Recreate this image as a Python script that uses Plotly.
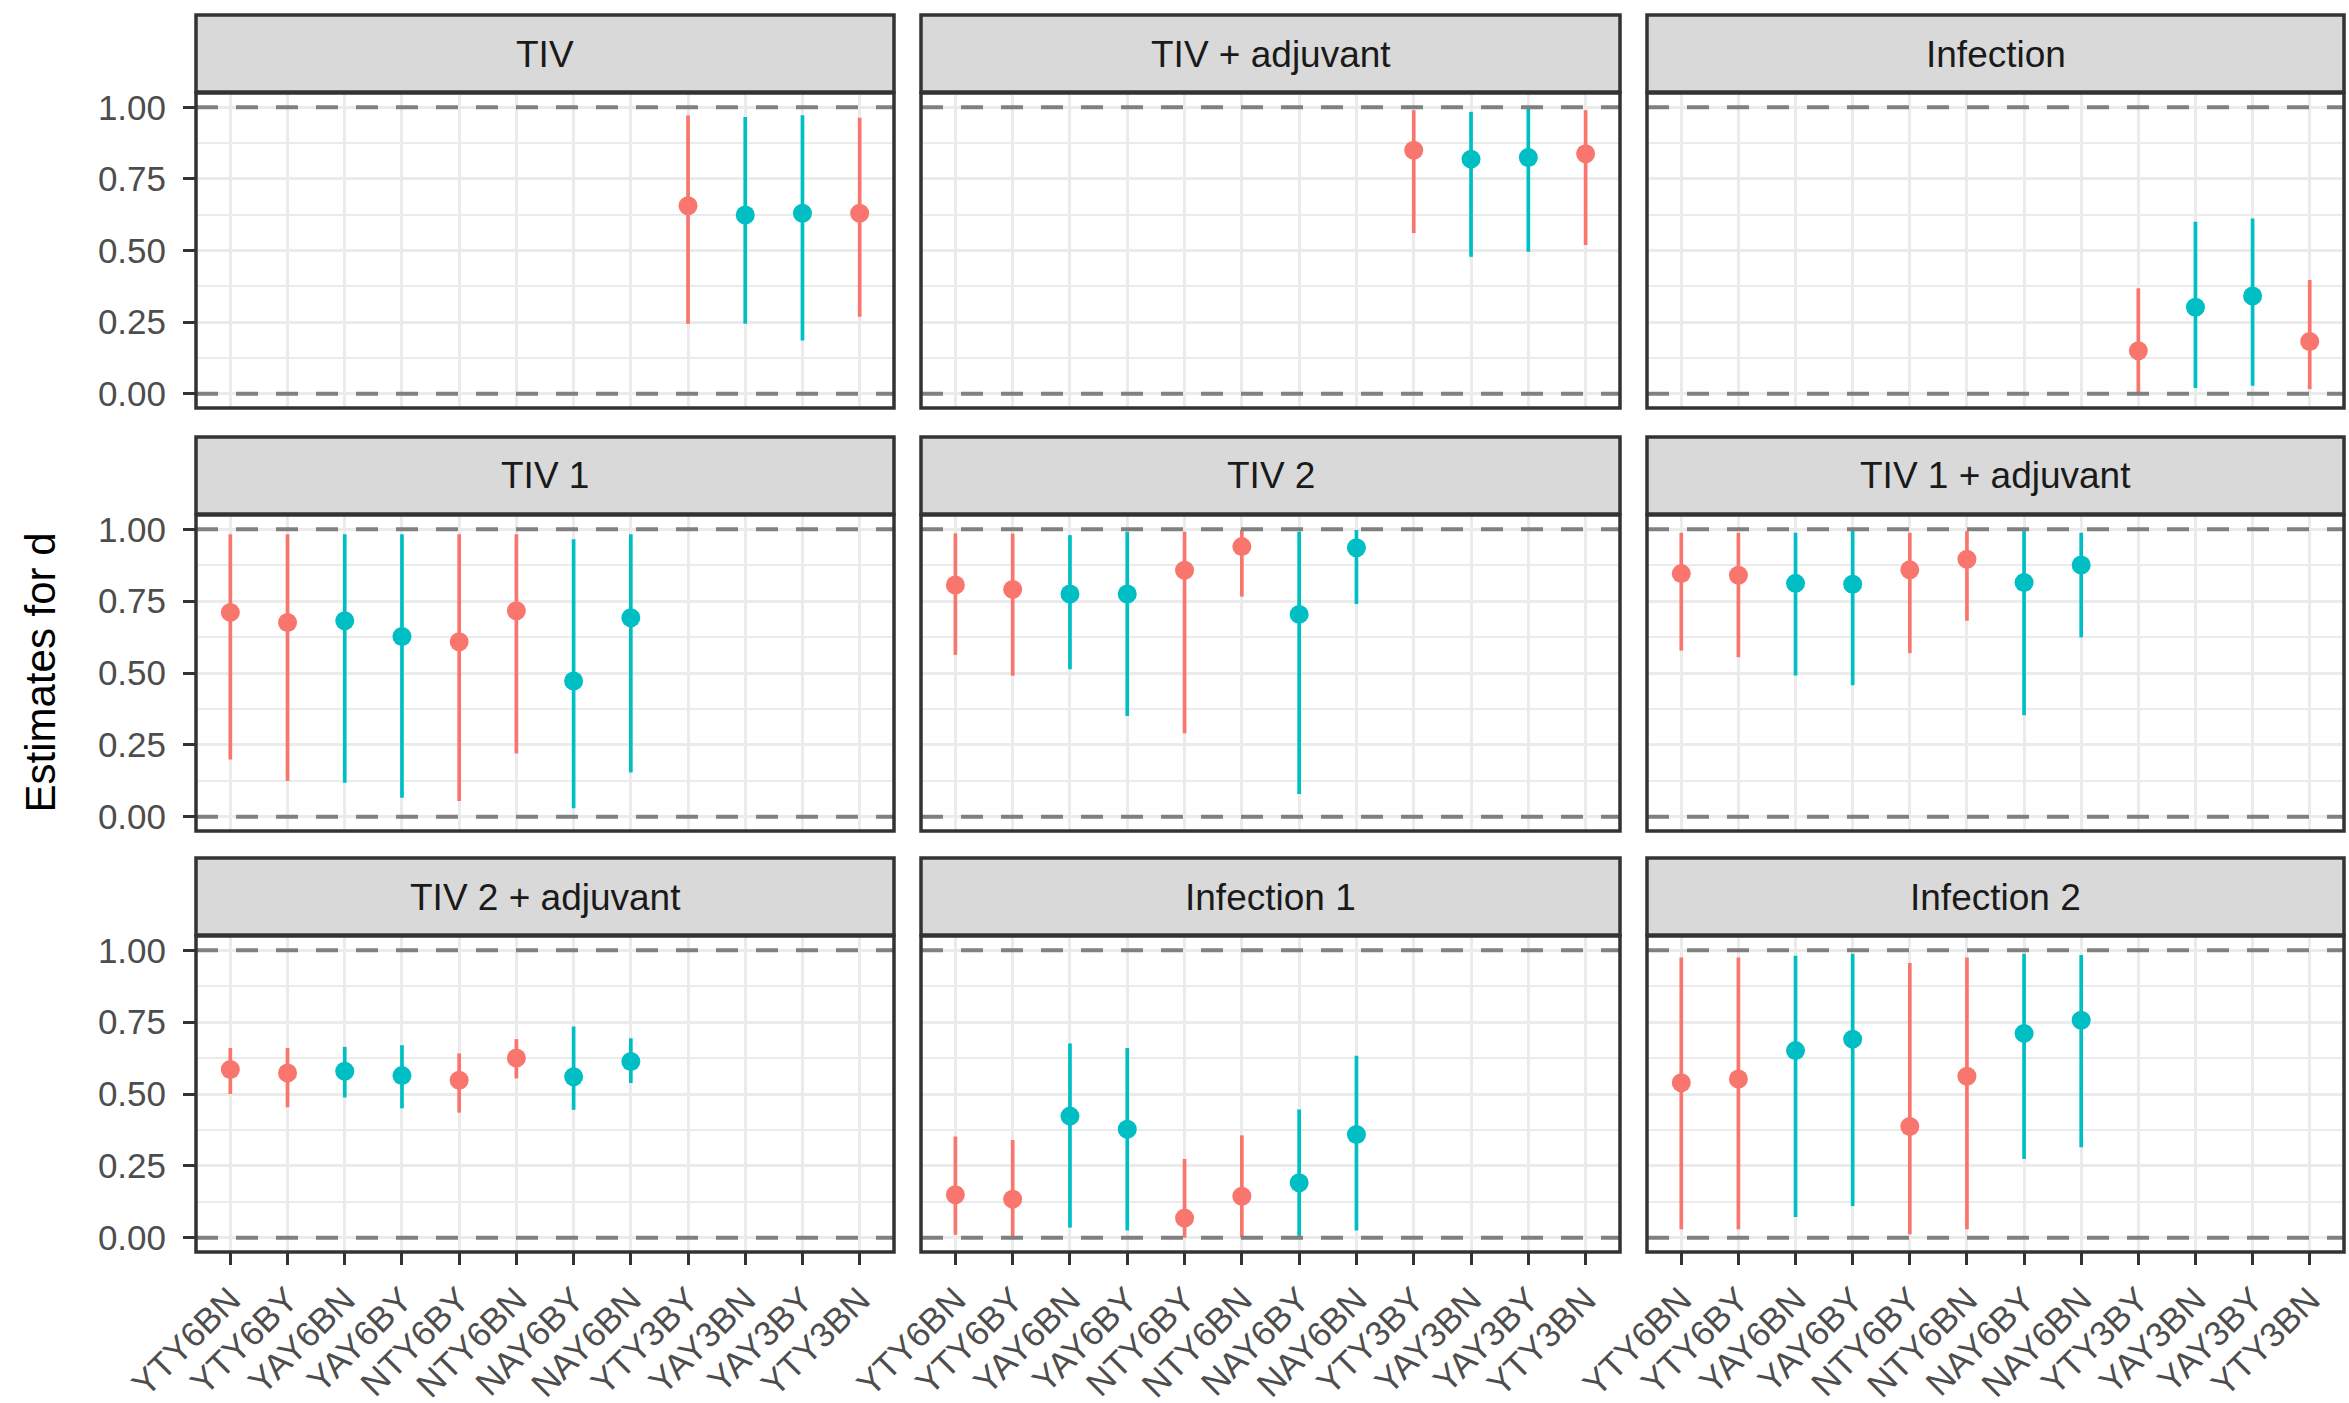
import plotly.graph_objects as go

# ---------------- data ----------------
categories = ["YTY6BN", "YTY6BY", "YAY6BN", "YAY6BY", "NTY6BY", "NTY6BN",
              "NAY6BY", "NAY6BN", "YTY3BY", "YAY3BN", "YAY3BY", "YTY3BN"]
groups = ["T", "T", "A", "A", "T", "T", "A", "A", "T", "A", "A", "T"]
panel_titles = ["TIV", "TIV + adjuvant", "Infection",
                "TIV 1", "TIV 2", "TIV 1 + adjuvant",
                "TIV 2 + adjuvant", "Infection 1", "Infection 2"]
N = None
# estimates / lower / upper per panel (None = not estimated)
tiv_est = [N, N, N, N, N, N, N, N, 0.656, 0.624, 0.630, 0.630]
tiv_lo = [N, N, N, N, N, N, N, N, 0.244, 0.244, 0.186, 0.269]
tiv_hi = [N, N, N, N, N, N, N, N, 0.972, 0.966, 0.972, 0.964]

tivadj_est = [N, N, N, N, N, N, N, N, 0.850, 0.819, 0.825, 0.838]
tivadj_lo = [N, N, N, N, N, N, N, N, 0.561, 0.478, 0.496, 0.519]
tivadj_hi = [N, N, N, N, N, N, N, N, 0.990, 0.984, 0.995, 0.990]

inf_est = [N, N, N, N, N, N, N, N, 0.150, 0.302, 0.341, 0.182]
inf_lo = [N, N, N, N, N, N, N, N, 0.000, 0.020, 0.028, 0.016]
inf_hi = [N, N, N, N, N, N, N, N, 0.368, 0.600, 0.612, 0.397]

tiv1_est = [0.711, 0.676, 0.682, 0.627, 0.609, 0.717, 0.472, 0.692, N, N, N, N]
tiv1_lo = [0.199, 0.124, 0.118, 0.066, 0.054, 0.220, 0.029, 0.154, N, N, N, N]
tiv1_hi = [0.983, 0.983, 0.983, 0.983, 0.983, 0.983, 0.966, 0.983, N, N, N, N]

tiv2_est = [0.806, 0.791, 0.775, 0.775, 0.858, 0.940, 0.704, 0.936, N, N, N, N]
tiv2_lo = [0.563, 0.490, 0.513, 0.350, 0.290, 0.766, 0.079, 0.740, N, N, N, N]
tiv2_hi = [0.986, 0.986, 0.980, 0.992, 0.992, 1.000, 0.992, 0.998, N, N, N, N]

tiv1adj_est = [0.846, 0.840, 0.812, 0.809, 0.859, 0.896, 0.815, 0.876, N, N, N, N]
tiv1adj_lo = [0.578, 0.555, 0.491, 0.457, 0.569, 0.682, 0.353, 0.624, N, N, N, N]
tiv1adj_hi = [0.988, 0.988, 0.988, 0.994, 0.988, 0.994, 0.994, 0.988, N, N, N, N]

tiv2adj_est = [0.585, 0.573, 0.579, 0.564, 0.548, 0.625, 0.560, 0.613, N, N, N, N]
tiv2adj_lo = [0.500, 0.454, 0.488, 0.450, 0.435, 0.554, 0.445, 0.538, N, N, N, N]
tiv2adj_hi = [0.660, 0.660, 0.664, 0.670, 0.641, 0.691, 0.735, 0.694, N, N, N, N]

inf1_est = [0.149, 0.134, 0.423, 0.377, 0.068, 0.144, 0.191, 0.359, N, N, N, N]
inf1_lo = [0.010, 0.000, 0.035, 0.025, 0.000, 0.000, 0.000, 0.025, N, N, N, N]
inf1_hi = [0.352, 0.340, 0.676, 0.660, 0.274, 0.356, 0.446, 0.633, N, N, N, N]

inf2_est = [0.539, 0.552, 0.651, 0.691, 0.387, 0.562, 0.711, 0.757, N, N, N, N]
inf2_lo = [0.029, 0.029, 0.072, 0.110, 0.012, 0.029, 0.274, 0.315, N, N, N, N]
inf2_hi = [0.975, 0.975, 0.981, 0.988, 0.956, 0.975, 0.988, 0.984, N, N, N, N]

y_ticks = [0.0, 0.25, 0.5, 0.75, 1.0]
ref_lines = [0.0, 1.0]

panel_data = [
    (tiv_est, tiv_lo, tiv_hi), (tivadj_est, tivadj_lo, tivadj_hi), (inf_est, inf_lo, inf_hi),
    (tiv1_est, tiv1_lo, tiv1_hi), (tiv2_est, tiv2_lo, tiv2_hi), (tiv1adj_est, tiv1adj_lo, tiv1adj_hi),
    (tiv2adj_est, tiv2adj_lo, tiv2adj_hi), (inf1_est, inf1_lo, inf1_hi), (inf2_est, inf2_lo, inf2_hi),
]

# ---------------- styling / layout ----------------
W, H = 2349, 1403
group_colors = {"T": "#F8766D", "A": "#00BFC4"}
col_px = [(196, 894), (921, 1620), (1647, 2344)]
row_px = [(93, 408), (515, 831), (936, 1252)]
strip_h = 78
FONT = "Liberation Sans, Arial, Helvetica, sans-serif"
TICK_SIZE = 35
XTICK_SIZE = 35
STRIP_SIZE = 37
GRID = "#EBEBEB"
DARK = "#333333"


def fx(px):
    return px / W


def fy(px):
    return 1 - px / H


fig = go.Figure()
shapes = []
annotations = []

for i, title in enumerate(panel_titles):
    r, c = divmod(i, 3)
    sfx = "" if i == 0 else str(i + 1)
    xa, ya = "x" + sfx, "y" + sfx
    est, lo, hi = panel_data[i]
    for g in ["T", "A"]:
        xs, ys, up, dn = [], [], [], []
        for k, cat in enumerate(categories):
            if groups[k] == g and est[k] is not None:
                xs.append(cat)
                ys.append(est[k])
                up.append(hi[k] - est[k])
                dn.append(est[k] - lo[k])
        fig.add_trace(go.Scatter(
            x=xs, y=ys, mode="markers", xaxis=xa, yaxis=ya, showlegend=False,
            marker=dict(color=group_colors[g], size=19, line=dict(width=0)),
            error_y=dict(type="data", symmetric=False, array=up, arrayminus=dn,
                         color=group_colors[g], thickness=3.7, width=0),
        ))
    x0, x1 = col_px[c]
    y0, y1 = row_px[r]
    bottom = (r == 2)
    left = (c == 0)
    fig.update_layout(**{
        ("xaxis" + sfx): dict(
            domain=[fx(x0), fx(x1)], anchor=ya, type="category", automargin=False,
            categoryorder="array", categoryarray=categories,
            range=[-0.6, len(categories) - 0.4],
            showgrid=True, gridcolor=GRID, gridwidth=3,
            showline=False, zeroline=False,
            ticks="outside" if bottom else "", ticklen=12, tickwidth=3, tickcolor=DARK,
            showticklabels=bottom, tickangle=-45,
            tickfont=dict(family=FONT, size=XTICK_SIZE, color="#4D4D4D"),
            ticklabelstandoff=0,
        ),
        ("yaxis" + sfx): dict(
            domain=[fy(y1), fy(y0)], anchor=xa, automargin=False,
            range=[-0.05, 1.05], tickvals=y_ticks, tickformat=".2f",
            showgrid=True, gridcolor=GRID, gridwidth=3, zeroline=False,
            minor=dict(dtick=0.125, tick0=0.125, showgrid=True, gridcolor=GRID, gridwidth=2),
            showline=False,
            ticks="outside" if left else "", ticklen=12, tickwidth=3, tickcolor=DARK,
            showticklabels=left,
            tickfont=dict(family=FONT, size=TICK_SIZE, color="#4D4D4D"),
            ticklabelstandoff=10,
        ),
    })
    # reference dashed lines at 0 and 1
    for v in ref_lines:
        shapes.append(dict(type="line", xref=xa + " domain", yref=ya, x0=0, x1=1, y0=v, y1=v,
                           line=dict(color="#808080", width=4, dash="22px,18px"), layer="above"))
    # panel border
    shapes.append(dict(type="rect", xref="paper", yref="paper",
                       x0=fx(x0), x1=fx(x1), y0=fy(y1), y1=fy(y0),
                       line=dict(color=DARK, width=3.5), fillcolor="rgba(0,0,0,0)", layer="above"))
    # strip
    shapes.append(dict(type="rect", xref="paper", yref="paper",
                       x0=fx(x0), x1=fx(x1), y0=fy(y0 - 1), y1=fy(y0 - strip_h),
                       line=dict(color=DARK, width=3.5), fillcolor="#D9D9D9", layer="above"))
    annotations.append(dict(text=title, xref="paper", yref="paper",
                            x=fx((x0 + x1) / 2), y=fy(y0 - strip_h / 2),
                            showarrow=False, xanchor="center", yanchor="middle",
                            font=dict(family=FONT, size=STRIP_SIZE, color="#1A1A1A")))

annotations.append(dict(text="Estimates for d", xref="paper", yref="paper",
                        x=fx(40), y=fy((row_px[0][0] + row_px[2][1]) / 2),
                        showarrow=False, textangle=-90, xanchor="center", yanchor="middle",
                        font=dict(family=FONT, size=42, color="#000000")))

fig.update_layout(
    width=W, height=H, margin=dict(l=0, r=0, t=0, b=0, autoexpand=False),
    paper_bgcolor="white", plot_bgcolor="white",
    shapes=shapes, annotations=annotations, showlegend=False,
)

fig.write_html("out.html", config={"displayModeBar": False},
               post_script="document.body.style.margin='0';document.body.style.overflow='hidden';")
